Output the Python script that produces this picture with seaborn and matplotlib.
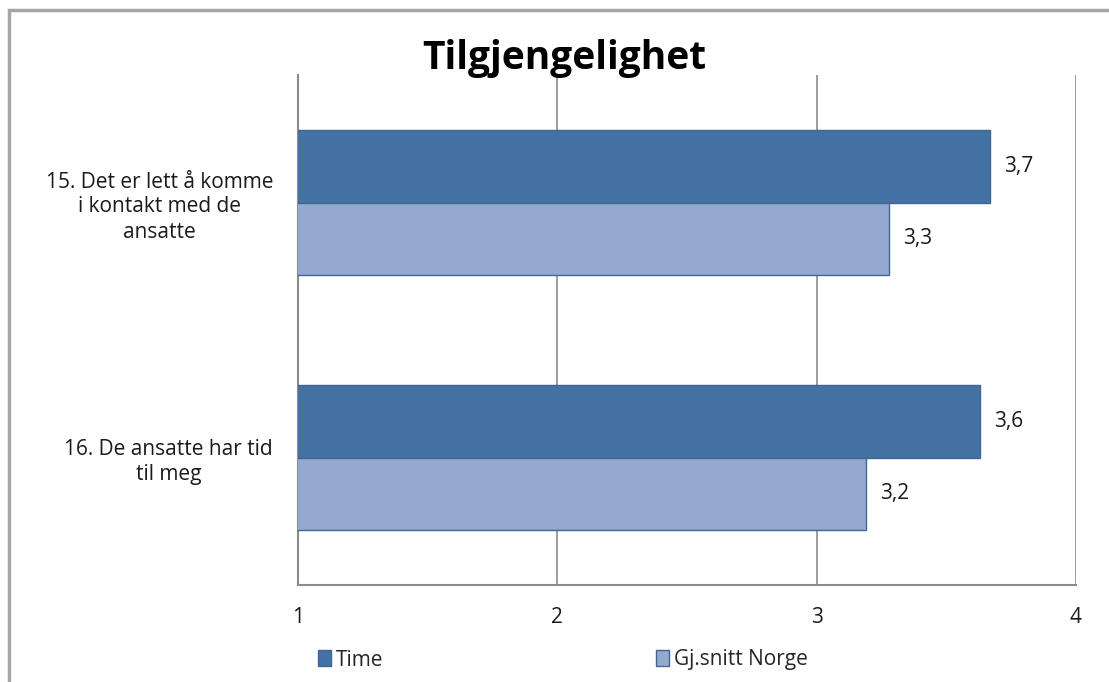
import pandas as pd
import matplotlib.pyplot as plt
import seaborn as sns
from matplotlib.patches import Rectangle

# Data
questions = ["15. Det er lett å komme\ni kontakt med de\nansatte",
             "16. De ansatte har tid\ntil meg"]
series = ["Time", "Gj.snitt Norge"]
time_vals = [3.67, 3.63]
norge_vals = [3.28, 3.19]
x_ticks = [1, 2, 3, 4]

df = pd.DataFrame({
    "question": questions * 2,
    "group": [series[0]] * 2 + [series[1]] * 2,
    "value": time_vals + norge_vals,
})

sns.set_style("white")
plt.rcParams['font.family'] = ['Open Sans', 'DejaVu Sans']

fig = plt.figure(figsize=(11.09, 6.82), dpi=100)
ax = fig.add_axes([298 / 1109, 1 - 585 / 682, (1076 - 298) / 1109, (585 - 75) / 682])

colors = ["#4572A4", "#95A9D0"]
sns.barplot(data=df, y="question", x="value", hue="group", orient="h",
            palette=colors, saturation=1, width=0.57, ax=ax,
            edgecolor="#3F6694", linewidth=1, zorder=3)

# value labels with decimal comma
for cont in ax.containers:
    ax.bar_label(cont, labels=[f"{b.get_width():.1f}".replace(".", ",") for b in cont],
                 padding=10, fontsize=15, color="#1a1a1a")

ax.set_xlim(1, 4)
ax.set_ylim(1.5, -0.5)
ax.set_xticks(x_ticks)
ax.set_xticklabels([str(t) for t in x_ticks], fontsize=15, color="#1a1a1a")
ax.tick_params(axis="x", length=7, width=1.2, color="#8C8C8C", pad=9)
ax.grid(axis="x", color="#8C8C8C", linewidth=1.2, zorder=0)
ax.set_axisbelow(True)

ax.set_yticks([0, 1])
ax.set_yticklabels(questions, fontsize=15, color="#1a1a1a",
                   multialignment="center", linespacing=1.25)
ax.tick_params(axis="y", length=0, pad=18)
ax.set_yticks([-0.5, 0.5, 1.5], minor=True)
ax.tick_params(axis="y", which="minor", length=6, width=1.2, color="#8C8C8C")

ax.set_xlabel("")
ax.set_ylabel("")
for s in ["top", "right"]:
    ax.spines[s].set_visible(False)
for s in ["left", "bottom"]:
    ax.spines[s].set_color("#8C8C8C")
    ax.spines[s].set_linewidth(1.5)

handles, labels = ax.get_legend_handles_labels()
ax.get_legend().remove()
fig.legend(handles, labels, loc="center left", bbox_to_anchor=(318 / 1109, 1 - 660 / 682),
           ncol=2, frameon=False, fontsize=15, handlelength=0.6, handleheight=0.8,
           handletextpad=0.25, columnspacing=13.1, borderpad=0, borderaxespad=0)

fig.text(0.509, 1 - 58 / 682, "Tilgjengelighet", ha="center", va="center",
         fontsize=28, fontweight="bold", color="black")

# outer frame of the chart area
fig.patches.append(Rectangle((9 / 1109, -0.1), 1.2, 1 - 10 / 682 + 0.1,
                             transform=fig.transFigure, fill=False,
                             edgecolor="#A6A6A6", linewidth=2.5))

fig.savefig("out.png", dpi=100)
